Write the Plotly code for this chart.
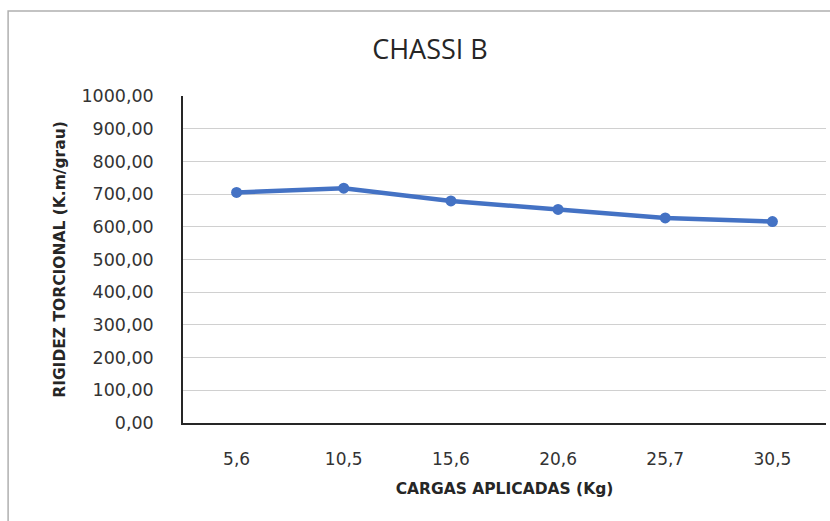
import plotly.graph_objects as go

cargas = ["5,6", "10,5", "15,6", "20,6", "25,7", "30,5"]
rigidez = [705, 718, 679, 653, 627, 616]
y_ticks = [0, 100, 200, 300, 400, 500, 600, 700, 800, 900, 1000]
y_labels = ["0,00", "100,00", "200,00", "300,00", "400,00", "500,00",
            "600,00", "700,00", "800,00", "900,00", "1000,00"]

tick_font = "DejaVu Sans, Verdana, sans-serif"
title_font = "Open Sans, sans-serif"

fig = go.Figure()
fig.add_trace(go.Scatter(
    x=cargas, y=rigidez, mode="lines+markers",
    line=dict(color="#4472C4", width=4.5),
    marker=dict(color="#4472C4", size=11),
    showlegend=False,
))

fig.update_layout(
    width=830, height=521,
    margin=dict(l=183, r=4, t=96, b=98),
    paper_bgcolor="white", plot_bgcolor="white",
    font=dict(family=tick_font, color="#404040", size=16),
    title=dict(text="CHASSI B", x=0.518, xanchor="center", y=0.905, yanchor="middle",
               font=dict(size=27, color="#262626", family=title_font)),
    xaxis=dict(
        type="category", range=[-0.5, 5.5], showgrid=False,
        showline=True, linecolor="#262626", linewidth=1.5,
        ticks="", ticklabelstandoff=20, tickfont=dict(size=17, color="#333333", family=tick_font),
        title=dict(text="<b>CARGAS APLICADAS (Kg)</b>",
                   font=dict(size=15.5, color="#262626", family=tick_font), standoff=15),
    ),
    yaxis=dict(
        range=[0, 1000], tickvals=y_ticks, ticktext=y_labels,
        showgrid=True, gridcolor="#d0d0d0", gridwidth=1,
        showline=True, linecolor="#262626", linewidth=1.5,
        ticks="", ticklabelstandoff=24,
        tickfont=dict(size=17.5, color="#333333", family=tick_font), zeroline=False,
        title=dict(text="<b>RIGIDEZ TORCIONAL (K.m/grau)</b>",
                   font=dict(size=15.5, color="#262626", family=tick_font), standoff=12),
    ),
    shapes=[dict(type="rect", xref="paper", yref="paper",
                 x0=-0.272, x1=1.2, y0=-0.5, y1=1.26,
                 line=dict(color="#b0b0b0", width=1.5), fillcolor="rgba(0,0,0,0)", layer="below")],
)

fig.write_html("out.html")
